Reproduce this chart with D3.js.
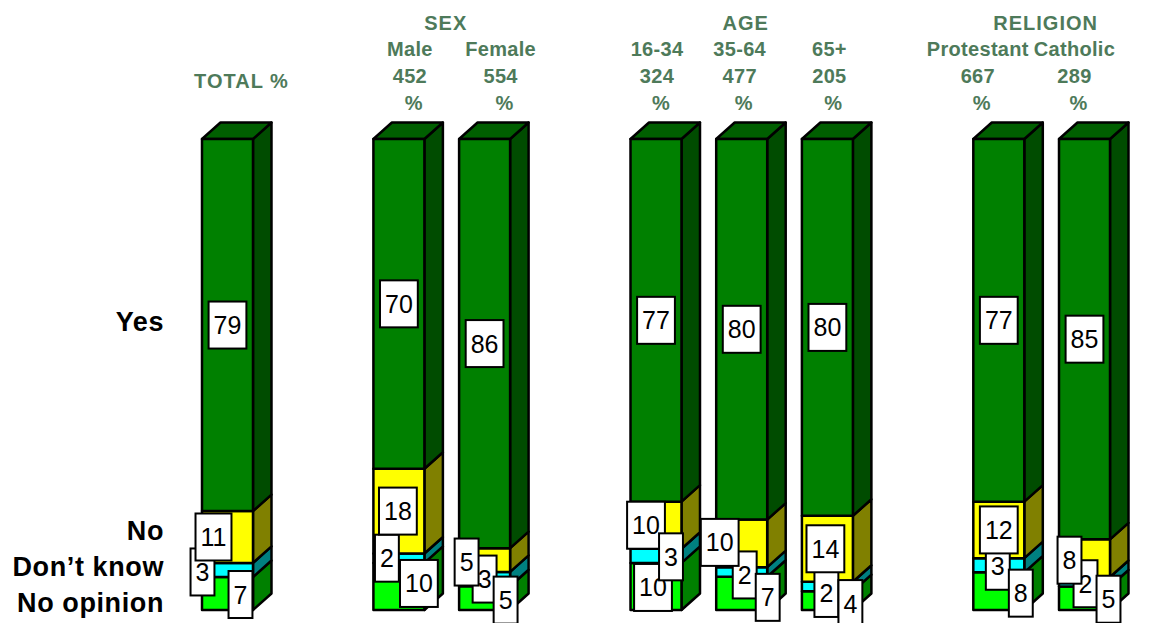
<!DOCTYPE html>
<html>
<head>
<meta charset="utf-8">
<script src="https://cdn.jsdelivr.net/npm/d3@7"></script>
<style>
  body { margin: 0; background: #fff; }
  text { font-family: "Liberation Sans", Arial, sans-serif; }
</style>
</head>
<body>
<svg id="chart" width="1168" height="623"></svg>
<script>
// slots along the x axis, gaps separate the groups
var slots = ["TOTAL", "gap1", "Male", "Female", "gap2", "16-34", "35-64", "65+", "gap3", "Protestant", "Catholic"]
var columns = ["TOTAL", "Male", "Female", "16-34", "35-64", "65+", "Protestant", "Catholic"]
var bases = ["", "452", "554", "324", "477", "205", "667", "289"]
var groupNames = ["SEX", "AGE", "RELIGION"]
var groupMembers = [["Male", "Female"], ["16-34", "35-64", "65+"], ["Protestant", "Catholic"]]

var series = ["Yes", "No", "Don\u2019t know", "No opinion"]
var yesValues = [79, 70, 86, 77, 80, 80, 77, 85]
var noValues = [11, 18, 5, 10, 10, 14, 12, 8]
var dontKnowValues = [3, 2, 3, 3, 2, 2, 3, 2]
var noOpinionValues = [7, 10, 5, 10, 7, 4, 8, 5]

var valuesBySeries = [yesValues, noValues, dontKnowValues, noOpinionValues]
var frontColor = ["#008000", "#ffff00", "#00ffff", "#00ff00"]
var sideColor = ["#004c00", "#808000", "#008080", "#008000"]
var topColor = "#005f00"
var headColor = "#4e7a5a"

// hand-placed label nudges (px from segment centre), per column: No, Don't know, No opinion
var labelNudge = [
    [[-14, 0], [-25, 2], [13, 1]],
    [[-1, 0], [-12, 0], [20, -3]],
    [[-18, 2], [0, 0], [21, 2]],
    [[-10, 0], [15, 1], [-3, 1]],
    [[-22, -1], [3, 3], [26, 4]],
    [[-2, 0], [-1, 7], [23, 3]],
    [[0, 0], [-1, 1], [22, 2]],
    [[-15, 2], [1, 2], [24, 1]]
]
var labelOrder = [0, 2, 1, 3]   // Yes, Don't know, No, No opinion (last on top)
var dkOnTop = ["16-34"]         // here the Don't know box sits over its neighbours
var headShift = [0, 11, 16, 1, -2, 2, -21, -10]

var svg = d3.select("#chart")

var table = columns.map(function (c, i) {
    var row = { col: c, idx: i }
    series.forEach(function (s, j) { row[s] = valuesBySeries[j][i] })
    return row
})

// stacked from the bottom: No opinion, Don't know, No, Yes
var stackKeys = series.slice().reverse()
var stacked = d3.stack().keys(stackKeys).offset(d3.stackOffsetExpand)(table)

var x = d3.scaleBand().domain(slots).range([202, 1110]).paddingInner(0.405).paddingOuter(0)
var y = d3.scaleLinear().domain([0, 1]).range([610, 139])
var bw = x.bandwidth()
var dx = 18.5, dy = -16.5

function poly(pts) { return "M" + pts.map(function (p) { return p.join(",") }).join("L") + "Z" }

// flatten segments
var segs = []
stacked.forEach(function (layer) {
    var si = series.indexOf(layer.key)
    layer.forEach(function (d) {
        segs.push({ si: si, col: d.data.col, idx: d.data.idx, y0: d[0], y1: d[1], value: d.data[layer.key] })
    })
})

var bars = svg.append("g").attr("id", "bars")
    .attr("stroke", "#000").attr("stroke-width", 2.5).attr("stroke-linejoin", "round")

// side faces
bars.selectAll(".side").data(segs).join("path")
    .attr("class", "side")
    .attr("fill", function (d) { return sideColor[d.si] })
    .attr("d", function (d) {
        var xr = x(d.col) + bw
        return poly([[xr, y(d.y0)], [xr, y(d.y1)], [xr + dx, y(d.y1) + dy], [xr + dx, y(d.y0) + dy]])
    })

// top faces
bars.selectAll(".top").data(columns).join("path")
    .attr("class", "top")
    .attr("fill", topColor)
    .attr("d", function (c) {
        var xl = x(c), yt = y(1)
        return poly([[xl, yt], [xl + dx, yt + dy], [xl + bw + dx, yt + dy], [xl + bw, yt]])
    })

// front faces
bars.selectAll(".front").data(segs).join("rect")
    .attr("class", "front")
    .attr("x", function (d) { return x(d.col) })
    .attr("y", function (d) { return y(d.y1) })
    .attr("width", bw)
    .attr("height", function (d) { return y(d.y0) - y(d.y1) })
    .attr("fill", function (d) { return frontColor[d.si] })

// value labels in boxes
function drawRank(d) {
    if (d.si === 2 && dkOnTop.indexOf(d.col) >= 0) return 10
    return labelOrder.indexOf(d.si)
}
var labelSegs = segs.slice().sort(function (a, b) { return drawRank(a) - drawRank(b) })
var labels = svg.append("g").attr("id", "labels")
labelSegs.forEach(function (d) {
    var nudge = d.si === 0 ? [0, 0] : labelNudge[d.idx][d.si - 1]
    var cx = x(d.col) + bw / 2 + nudge[0]
    var cy = y((d.y0 + d.y1) / 2) + nudge[1]
    var g = labels.append("g")
    var r = g.append("rect").attr("fill", "#fff").attr("stroke", "#000").attr("stroke-width", 2)
    var t = g.append("text")
        .attr("x", cx).attr("y", cy + 9)
        .attr("text-anchor", "middle")
        .attr("font-size", 25)
        .attr("fill", "#000")
        .text(d.value)
    var w = t.node().getComputedTextLength() + 10
    r.attr("x", cx - w / 2).attr("y", cy - 23.5).attr("width", w).attr("height", 47)
})

// row labels on the left, spread out under the Yes label
var totalSegs = segs.filter(function (d) { return d.col === "TOTAL" })
var mids = series.map(function (s, i) {
    var d = totalSegs.find(function (e) { return e.si === i })
    return y((d.y0 + d.y1) / 2)
})
var lowMean = d3.mean(mids.slice(1))
var rowY = mids.map(function (m, i) { return i === 0 ? m - 3 : lowMean + (i - 2) * 36 })

svg.append("g").selectAll("text").data(series).join("text")
    .attr("x", 164)
    .attr("y", function (d, i) { return rowY[i] + 9 })
    .attr("text-anchor", "end")
    .attr("font-size", 27)
    .attr("font-weight", "bold")
    .attr("letter-spacing", 0.6)
    .text(function (d) { return d })

// headers
var head = svg.append("g").attr("fill", headColor).attr("font-weight", "bold")
    .attr("font-size", 20).attr("text-anchor", "middle").attr("letter-spacing", 0.3)

head.append("text").attr("x", x("TOTAL") + bw / 2 + 14).attr("y", 88).attr("letter-spacing", 1).text("TOTAL %")

groupNames.forEach(function (g, i) {
    var m = groupMembers[i]
    var cx = (x(m[0]) + x(m[m.length - 1]) + bw) / 2 + 4
    head.append("text").attr("x", cx).attr("y", 30).attr("letter-spacing", 1).text(g)
})

columns.forEach(function (c, i) {
    if (c === "TOTAL") return
    var cx = x(c) + bw / 2 + headShift[i]
    head.append("text").attr("x", cx).attr("y", 56).text(c)
    head.append("text").attr("x", cx).attr("y", 83).text(bases[i])
    head.append("text").attr("x", cx + 4).attr("y", 110).text("%")
})
</script>
</body>
</html>
